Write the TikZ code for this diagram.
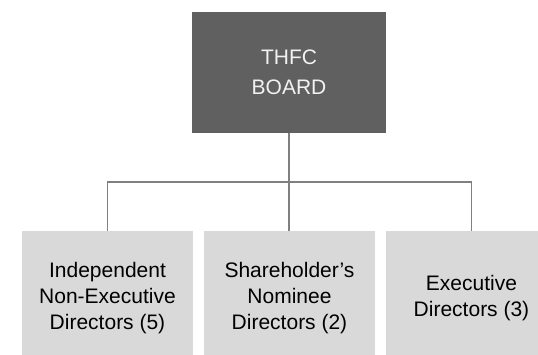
\documentclass[tikz,border=0pt]{standalone}
\usepackage{fontspec}
\setmainfont{Liberation Sans}
\definecolor{topfill}{HTML}{606060}
\definecolor{topText}{HTML}{F2F2F2}
\definecolor{lowfill}{HTML}{D9D9D9}
\definecolor{connc}{HTML}{808080}
\begin{document}
\begin{tikzpicture}[x=1pt,y=1pt,
  topbox/.style={fill=topfill,text=topText,minimum width=194pt,minimum height=121pt,inner sep=0pt,align=center,font=\fontsize{21}{29.7}\selectfont},
  lowbox/.style={fill=lowfill,text=black,minimum width=171pt,minimum height=134pt,inner sep=0pt,align=center,font=\fontsize{21}{25.7}\selectfont},
  conn/.style={draw=connc,line width=1.5pt}]
\useasboundingbox (0,0) rectangle (538,354);
\clip (0,0) rectangle (538,354);
\node[topbox] (top) at (289,281.5) {THFC\\BOARD};
\node[lowbox] (b1) at (107.5,56) {Independent\\Non-Executive\\Directors (5)};
\node[lowbox] (b2) at (289.5,56) {Shareholder’s\\Nominee\\Directors (2)};
\node[lowbox] (b3) at (471.5,56) {Executive\\Directors (3)};
\coordinate (bus) at (289,172);
\draw[conn] (top.south) -- (top.south |- b2.north);
\draw[conn] (top.south |- bus) -| (b1.north);
\draw[conn] (top.south |- bus) -| (b3.north);
\end{tikzpicture}
\end{document}
